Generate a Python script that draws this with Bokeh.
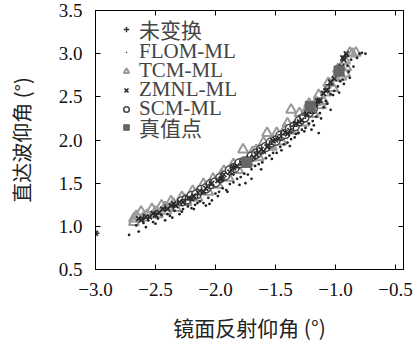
from bokeh.plotting import figure
from bokeh.models import LinearAxis, FixedTicker, Legend, LegendItem, Range1d
from bokeh.embed import file_html
from bokeh.resources import INLINE

# ---- data ----
x_ticks = [-3.0, -2.5, -2.0, -1.5, -1.0, -0.5]
x_tick_labels = ["\u22123.0", "\u22122.5", "\u22122.0", "\u22121.5", "\u22121.0", "\u22120.5"]
y_ticks = [0.5, 1.0, 1.5, 2.0, 2.5, 3.0, 3.5]
y_tick_labels = ["0.5", "1.0", "1.5", "2.0", "2.5", "3.0", "3.5"]

series_names = ["未变换", "FLOM-ML", "TCM-ML", "ZMNL-ML", "SCM-ML", "真值点"]

# 未变换 (+)
raw_x = [-3.00, -2.60, -2.50, -2.42, -2.35, -2.25, -2.15, -2.05, -1.95, -1.85,
         -1.75, -1.65, -1.55, -1.45, -1.35, -1.25, -1.15, -1.05, -0.97, -0.92]
raw_y = [0.92, 1.10, 1.14, 1.21, 1.23, 1.31, 1.37, 1.48, 1.56, 1.68,
         1.76, 1.86, 1.95, 2.06, 2.16, 2.29, 2.44, 2.64, 2.82, 2.97]

# FLOM-ML (dots)
flom_x = [-2.72, -2.64, -2.66, -2.60, -2.56, -2.52, -2.48, -2.45, -2.40, -2.38,
          -2.34, -2.30, -2.27, -2.23, -2.20, -2.17, -2.13, -2.10, -2.06, -2.03,
          -2.00, -1.97, -1.94, -1.91, -1.88, -1.85, -1.82, -1.79, -1.76, -1.73,
          -1.70, -1.67, -1.64, -1.61, -1.58, -1.55, -1.52, -1.49, -1.46, -1.43,
          -1.40, -1.37, -1.34, -1.31, -1.28, -1.25, -1.22, -1.19, -1.16, -1.14,
          -1.13, -1.10, -1.07, -1.04, -1.04, -1.01, -0.98, -0.96, -0.94, -0.89,
          -0.90, -0.87, -0.80, -0.78, -0.75, -1.60, -1.95, -2.25, -1.30, -1.20,
          -1.75, -2.05, -2.58, -2.50, -2.42, -2.36, -2.28, -2.18, -2.08, -1.98,
          -1.90, -1.80, -1.70, -1.62, -1.53, -1.45, -1.38, -1.33, -1.26, -1.18,
          -1.12, -1.08, -1.02, -0.97, -0.93, -0.88, -0.85, -0.82, -2.15, -1.85,
          -1.48]
flom_y = [0.90, 0.94, 1.01, 1.04, 1.07, 1.05, 1.09, 1.13, 1.14, 1.12,
          1.18, 1.14, 1.20, 1.23, 1.21, 1.25, 1.29, 1.27, 1.33, 1.30,
          1.38, 1.40, 1.44, 1.42, 1.49, 1.51, 1.55, 1.57, 1.61, 1.60,
          1.66, 1.70, 1.72, 1.74, 1.79, 1.82, 1.85, 1.85, 1.92, 1.95,
          1.97, 2.01, 2.03, 2.08, 2.12, 2.14, 2.19, 2.22, 2.27, 2.08,
          2.31, 2.38, 2.42, 2.35, 2.53, 2.57, 2.62, 2.68, 2.70, 2.79,
          2.86, 2.93, 3.00, 3.01, 3.00, 1.95, 1.60, 1.32, 2.28, 2.12,
          1.50, 1.26, 0.99, 1.03, 1.07, 1.10, 1.17, 1.20, 1.24, 1.35,
          1.40, 1.48, 1.55, 1.66, 1.78, 1.88, 1.93, 2.07, 2.10, 2.17,
          2.25, 2.45, 2.52, 2.55, 2.65, 2.72, 2.85, 2.95, 1.27, 1.60,
          1.97]

# TCM-ML (triangles)
tcm_x = [-2.68, -2.68, -2.62, -2.57, -2.53, -2.48, -2.45, -2.41, -2.37, -2.33,
         -2.28, -2.24, -2.19, -2.15, -2.10, -2.06, -2.02, -1.98, -1.93, -1.89,
         -1.85, -1.81, -1.77, -1.73, -1.69, -1.64, -1.60, -1.57, -1.53, -1.49,
         -1.45, -1.40, -1.37, -1.34, -1.30, -1.26, -1.22, -1.18, -1.14, -1.10,
         -1.06, -1.02, -0.98, -0.95, -0.92, -0.91, -0.92, -0.86, -0.83, -1.12,
         -2.66, -2.60, -2.50, -2.42, -2.35, -2.26, -2.17, -2.08, -2.00, -1.95,
         -1.87, -1.79, -1.71, -1.66, -1.55, -1.47, -1.42, -1.32, -1.24, -1.16,
         -1.08, -1.00, -0.97, -0.88]
tcm_y = [1.05, 1.09, 1.17, 1.13, 1.20, 1.14, 1.24, 1.18, 1.29, 1.21,
         1.34, 1.28, 1.41, 1.33, 1.49, 1.40, 1.55, 1.48, 1.64, 1.56,
         1.72, 1.65, 1.89, 1.74, 1.86, 1.80, 1.97, 2.08, 1.92, 2.08,
         1.98, 2.19, 2.35, 2.11, 2.31, 2.20, 2.42, 2.30, 2.52, 2.45,
         2.66, 2.60, 2.82, 2.73, 2.92, 2.84, 2.77, 3.00, 3.01, 2.40,
         1.12, 1.10, 1.17, 1.22, 1.26, 1.31, 1.37, 1.45, 1.52, 1.60,
         1.66, 1.72, 1.79, 1.88, 1.94, 2.03, 2.12, 2.20, 2.35, 2.44,
         2.55, 2.72, 2.78, 3.01]

# ZMNL-ML (x)
zmnl_x = [-3.00, -2.62, -2.58, -2.55, -2.52, -2.47, -2.44, -2.40, -2.37, -2.33,
          -2.30, -2.27, -2.22, -2.18, -2.13, -2.08, -2.03, -1.98, -1.93, -1.88,
          -1.82, -1.78, -1.72, -1.66, -1.62, -1.57, -1.52, -1.47, -1.42, -1.38,
          -1.33, -1.28, -1.24, -1.20, -1.17, -1.13, -1.10, -1.07, -1.04, -1.01,
          -0.98, -0.95, -0.93, -0.91, -2.64, -2.50, -2.35, -2.20, -2.10, -1.95,
          -1.85, -1.75, -1.68, -1.60, -1.50, -1.40, -1.30, -1.22, -1.15, -1.08,
          -0.96, -0.94]
zmnl_y = [0.92, 1.07, 1.11, 1.11, 1.15, 1.16, 1.20, 1.20, 1.24, 1.24,
          1.28, 1.28, 1.33, 1.35, 1.41, 1.44, 1.50, 1.53, 1.60, 1.63,
          1.70, 1.73, 1.79, 1.83, 1.89, 1.92, 1.99, 2.02, 2.09, 2.11,
          2.19, 2.23, 2.30, 2.34, 2.41, 2.46, 2.54, 2.58, 2.67, 2.71,
          2.80, 2.85, 2.93, 3.00, 1.09, 1.13, 1.26, 1.32, 1.40, 1.55,
          1.68, 1.76, 1.80, 1.87, 2.00, 2.07, 2.21, 2.33, 2.45, 2.57,
          2.84, 2.95]

# SCM-ML (open circles)
scm_x = [-2.28, -2.24, -2.20, -2.16, -2.12, -2.08, -2.04, -2.00, -1.96, -1.92,
         -1.88, -1.84, -1.80, -1.76, -1.70, -1.66, -1.62, -1.58, -1.54, -1.50,
         -1.46, -1.42, -1.38, -1.34, -1.30, -1.26, -1.22, -1.19]
scm_y = [1.29, 1.31, 1.35, 1.37, 1.42, 1.44, 1.49, 1.51, 1.56, 1.59,
         1.65, 1.68, 1.73, 1.75, 1.81, 1.84, 1.89, 1.92, 1.97, 1.99,
         2.05, 2.07, 2.13, 2.16, 2.22, 2.26, 2.32, 2.36]

# 真值点 (filled squares)
true_x = [-1.74, -1.21, -0.97]
true_y = [1.74, 2.39, 2.80]

SERIF = "Liberation Serif, Noto Sans CJK SC"
CJK = "Noto Sans CJK SC"

p = figure(frame_width=308, frame_height=259,
           x_range=Range1d(-3.0, -0.433), y_range=Range1d(0.5, 3.5),
           output_backend="svg", toolbar_location=None,
           min_border_left=95, min_border_right=10, min_border_top=10, min_border_bottom=66,
           background_fill_color="white", border_fill_color="white")
p.grid.visible = False
p.outline_line_color = "black"
p.outline_line_width = 1

for ax in (p.xaxis[0], p.yaxis[0]):
    ax.major_tick_in = 5
    ax.major_tick_out = 0
    ax.minor_tick_in = 0
    ax.minor_tick_out = 0
    ax.axis_line_color = "black"
    ax.major_tick_line_color = "black"
    ax.major_label_text_font = SERIF
    ax.major_label_text_font_size = "19px"
    ax.major_label_text_color = "#111"
    ax.axis_label_text_font = CJK
    ax.axis_label_text_font_style = "normal"
    ax.axis_label_text_color = "#222"

p.xaxis[0].axis_label_text_font_size = "21px"
p.yaxis[0].axis_label_text_font_size = "20px"
p.xaxis[0].ticker = FixedTicker(ticks=x_ticks)
p.xaxis[0].major_label_overrides = dict(zip(x_ticks, x_tick_labels))
p.yaxis[0].ticker = FixedTicker(ticks=y_ticks)
p.yaxis[0].major_label_overrides = dict(zip(y_ticks, y_tick_labels))
p.xaxis[0].axis_label = "镜面反射仰角 (°)"
p.yaxis[0].axis_label = "直达波仰角 (°)"
p.xaxis[0].major_label_standoff = 13
p.xaxis[0].axis_label_standoff = 13
p.yaxis[0].major_label_standoff = 13
p.yaxis[0].axis_label_standoff = 20

top = LinearAxis(ticker=FixedTicker(ticks=x_ticks),
                 major_label_overrides={t: "" for t in x_ticks},
                 major_label_text_font_size="1px",
                 major_tick_in=5, major_tick_out=0, minor_tick_in=0, minor_tick_out=0,
                 major_label_standoff=0)
right = LinearAxis(ticker=FixedTicker(ticks=y_ticks),
                   major_label_overrides={t: "" for t in y_ticks},
                   major_label_text_font_size="1px",
                   major_tick_in=5, major_tick_out=0, minor_tick_in=0, minor_tick_out=0,
                   major_label_standoff=0)
p.add_layout(top, "above")
p.add_layout(right, "right")

r_tcm = p.scatter(tcm_x, tcm_y, marker="triangle", size=10, fill_color=None,
                  line_color="#9a9a9a", line_width=2)
r_flom = p.scatter(flom_x, flom_y, marker="dot", size=11, fill_color="#222",
                   line_color="#222")
r_scm = p.scatter(scm_x, scm_y, marker="circle", size=9, fill_color="white",
                  line_color="#444", line_width=1.5)
r_raw = p.scatter(raw_x, raw_y, marker="cross", size=8, line_color="#333", line_width=1.5)
r_zmnl = p.scatter(zmnl_x, zmnl_y, marker="x", size=7, line_color="#2a2a2a", line_width=1.6)
r_true = p.scatter(true_x, true_y, marker="square", size=10, fill_color="#666",
                   line_color="#666")

renderers = [r_raw, r_flom, r_tcm, r_zmnl, r_scm, r_true]
# one legend box per row so that the rows can sit as close as in the reference
row_offsets = [225, 205, 186, 167, 148, 127]
for name, r, off in zip(series_names, renderers, row_offsets):
    lg = Legend(items=[LegendItem(label=name, renderers=[r])],
                location=(24, off), border_line_color=None, background_fill_alpha=0,
                label_text_font=SERIF, label_text_font_size="21px",
                glyph_width=14, glyph_height=16, label_height=16, spacing=0,
                padding=0, margin=0, label_standoff=6)
    p.add_layout(lg)

open("out.html", "w").write(file_html(p, INLINE))
